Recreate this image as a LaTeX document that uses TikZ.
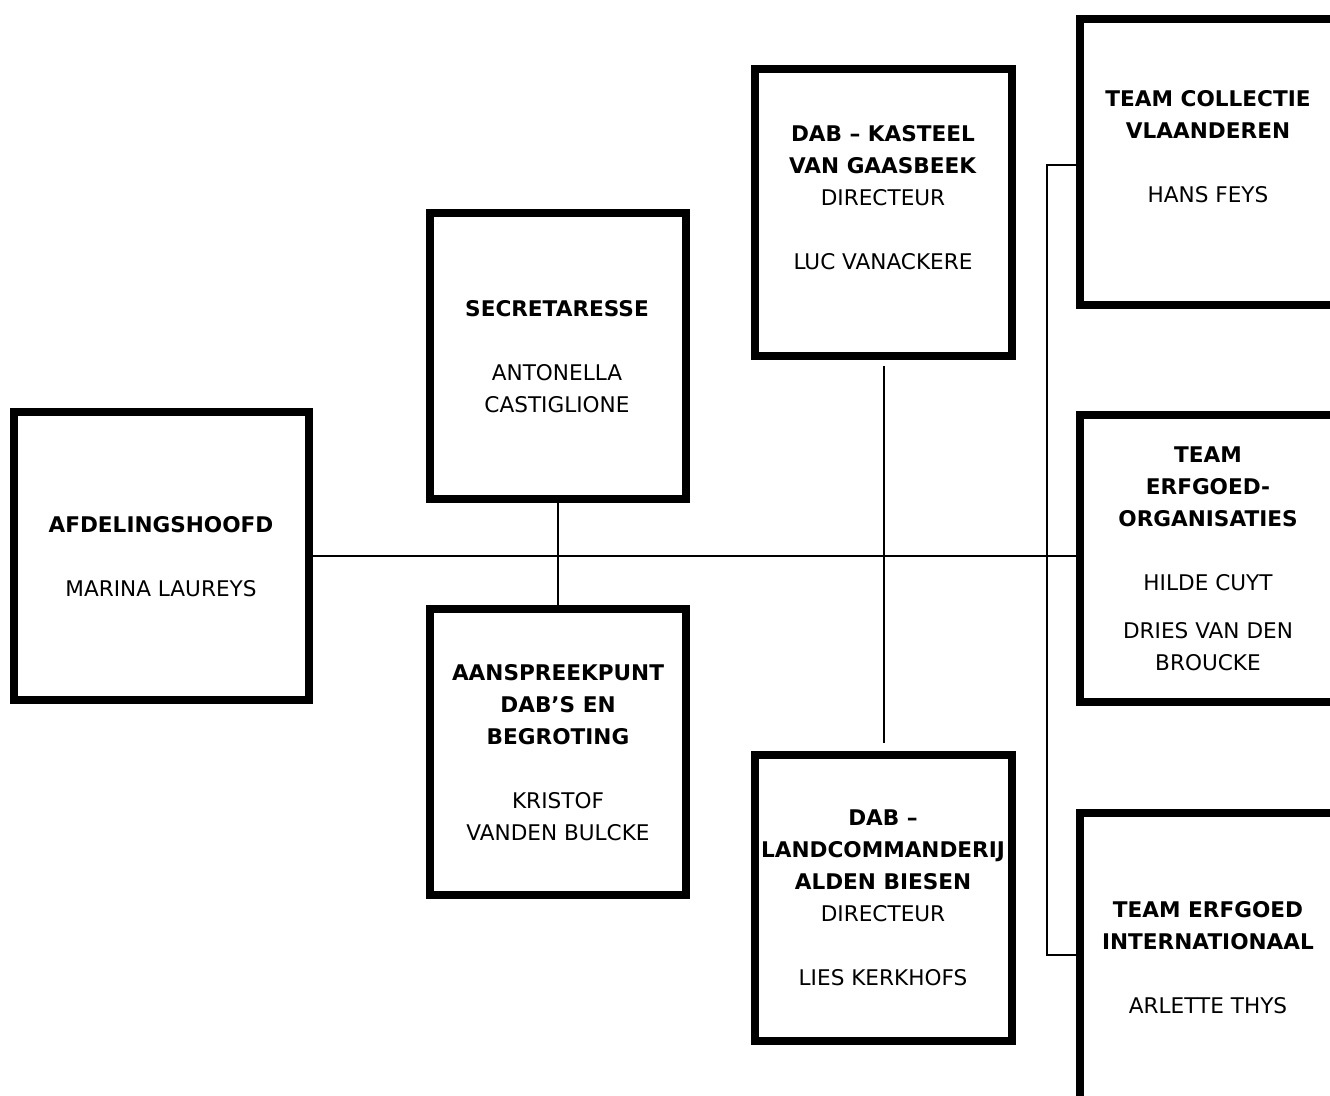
\documentclass[tikz,border=0pt]{standalone}
\usepackage{fontspec}
\setmainfont{DejaVu Sans}
\begin{document}
\begin{tikzpicture}[x=1pt,y=-1pt,
  box/.style={draw=black, line width=8pt, inner sep=0pt, minimum width=256pt, minimum height=286pt},
  lbl/.style={align=center, font=\fontsize{21.6}{32}\selectfont, inner sep=0pt, text depth=0pt, text=black},
  conn/.style={draw=black, line width=2pt}]
\useasboundingbox[fill=white] (0,0) rectangle (1330,1095);
% boxes
\node[box, minimum width=295pt, minimum height=288pt] (afd) at (161.5,555.5) {};
\node[box] (sec) at (558,356) {};
\node[box] (aan) at (558,751.5) {};
\node[box, minimum width=257pt, minimum height=287pt] (dab1) at (883.5,212.5) {};
\node[box, minimum width=257pt, minimum height=286pt] (dab2) at (883.5,898) {};
\node[box] (team1) at (1208,162) {};
\node[box, minimum height=287pt] (team2) at (1208,558.5) {};
\node[box, minimum height=287pt] (team3) at (1208,956.5) {};
% texts
\node[lbl] (afdT) at (161,556) {\textbf{AFDELINGSHOOFD}\\[32pt]MARINA LAUREYS};
\node[lbl] (secT) at (557,356) {\textbf{SECRETARESSE}\\[32pt]ANTONELLA\\CASTIGLIONE};
\node[lbl] (aanT) at (558,752) {\textbf{AANSPREEKPUNT}\\\textbf{DAB’S EN}\\\textbf{BEGROTING}\\[32pt]KRISTOF\\VANDEN BULCKE};
\node[lbl] (dab1T) at (883,197) {\textbf{DAB – KASTEEL}\\\textbf{VAN GAASBEEK}\\DIRECTEUR\\[32pt]LUC VANACKERE};
\node[lbl] (dab2T) at (883,898) {\textbf{DAB –}\\\textbf{LANDCOMMANDERIJ}\\\textbf{ALDEN BIESEN}\\DIRECTEUR\\[32pt]LIES KERKHOFS};
\node[lbl] (team1T) at (1208,146) {\textbf{TEAM COLLECTIE}\\\textbf{VLAANDEREN}\\[32pt]HANS FEYS};
\node[lbl] (team2T) at (1208,559) {\textbf{TEAM}\\\textbf{ERFGOED-}\\\textbf{ORGANISATIES}\\[32pt]HILDE CUYT\\[16pt]DRIES VAN DEN\\BROUCKE};
\node[lbl] (team3T) at (1208,957) {\textbf{TEAM ERFGOED}\\\textbf{INTERNATIONAAL}\\[32pt]ARLETTE THYS};
% connectors
\coordinate (bus) at (1047,0);
\draw[conn] (afd.east) -- (afd.east -| team2.west);
\draw[conn] (sec.south) -- (aan.north);
\draw[conn, shorten <=6pt, shorten >=8pt] (dab1.south) -- (dab2.north);
\draw[conn] ([yshift=-3pt]team1.west) -- ([yshift=-3pt]team1.west -| bus) -- ([yshift=1.5pt]team3.west -| bus) -- ([yshift=1.5pt]team3.west);
\end{tikzpicture}
\end{document}
